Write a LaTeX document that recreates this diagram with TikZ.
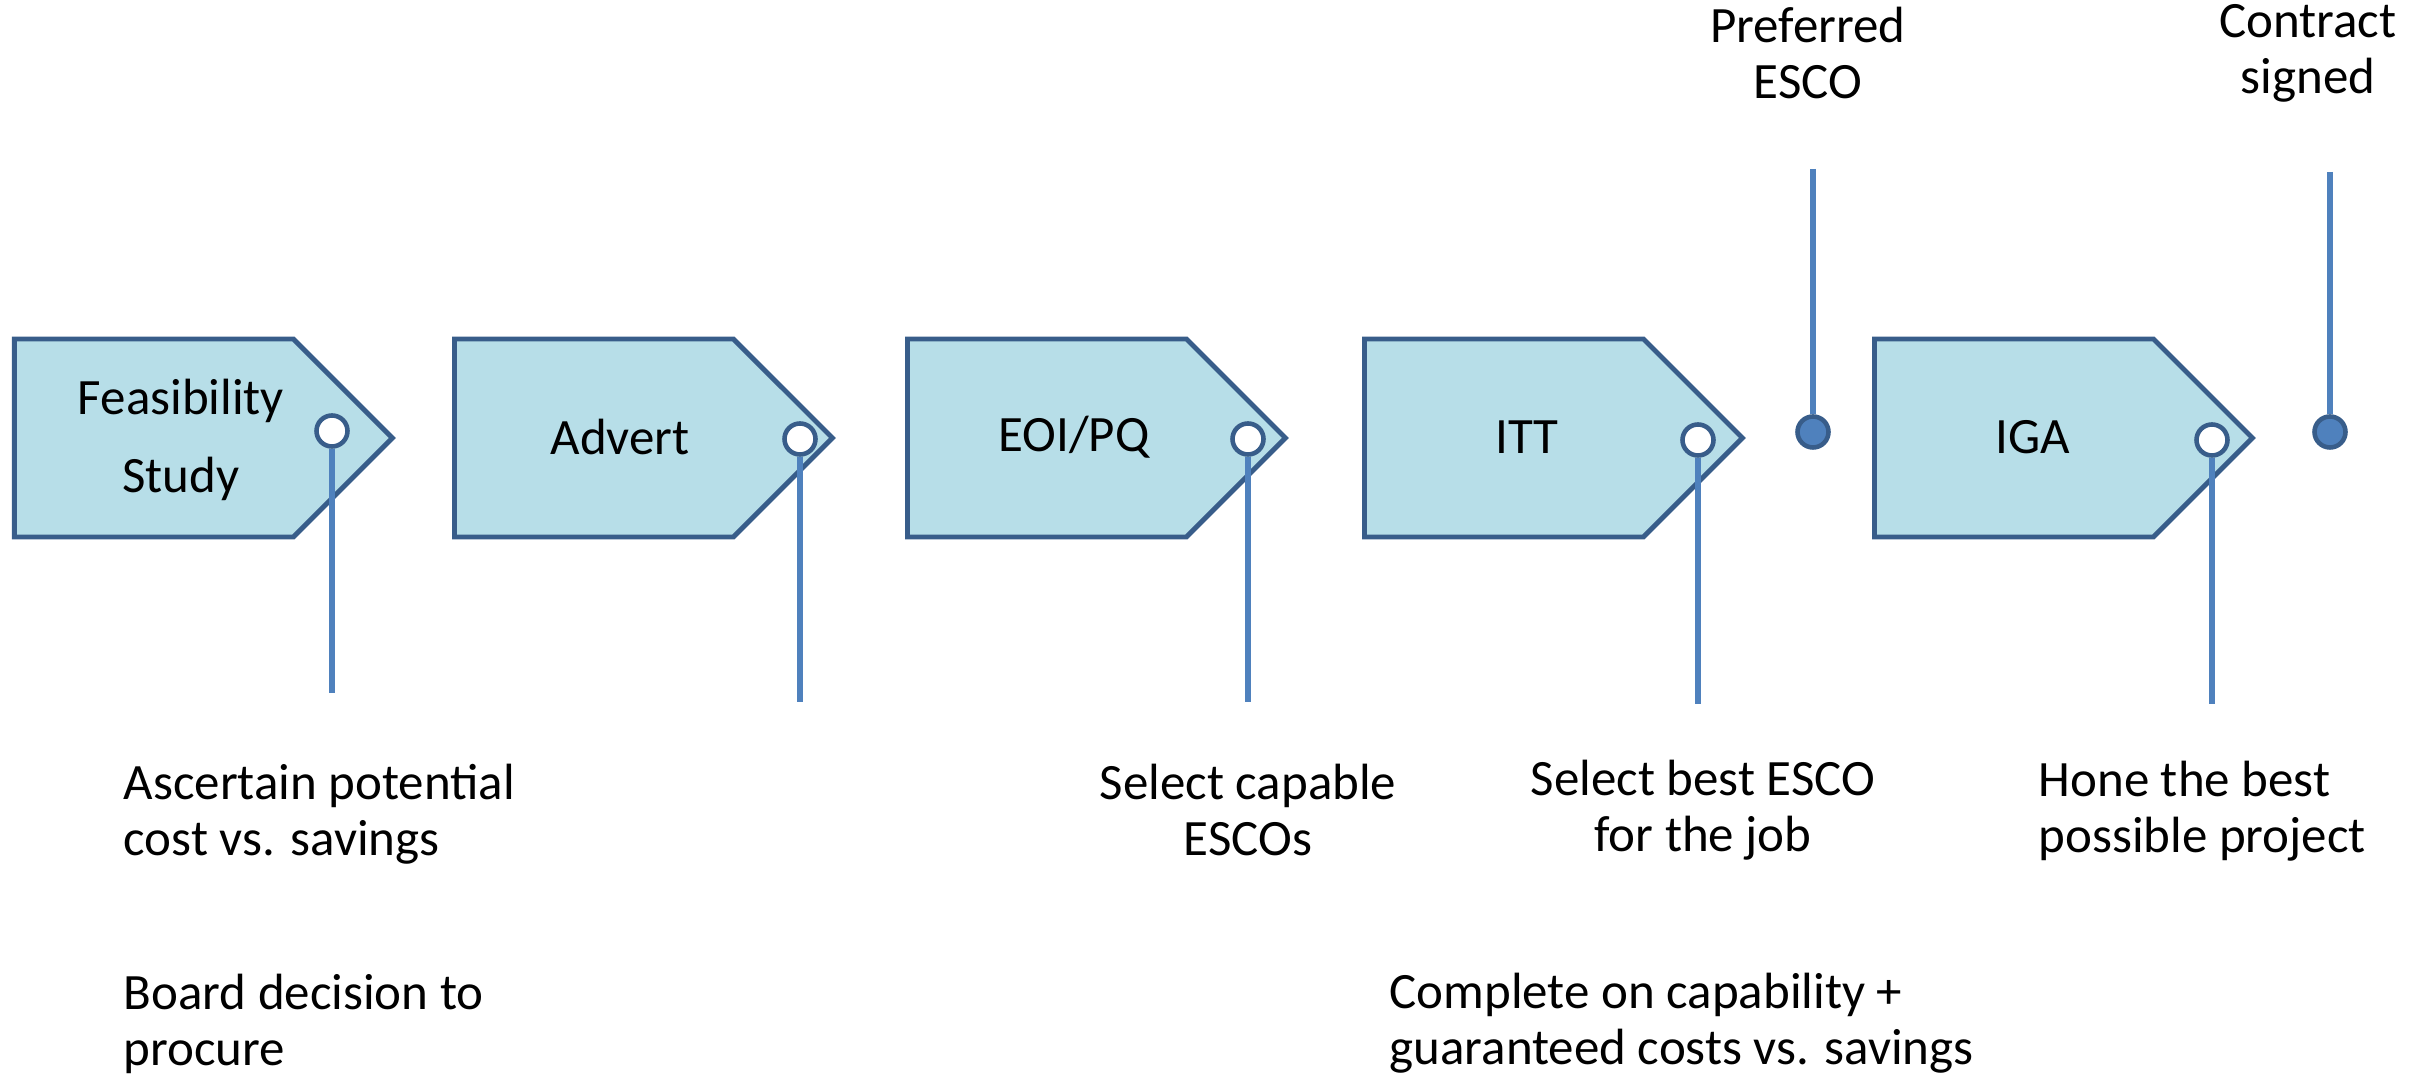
\documentclass[tikz,border=0pt]{standalone}
\usepackage{fontspec}
\setmainfont{Carlito}
\usepackage{tikz}
\usetikzlibrary{
  shapes.symbols,
  positioning
}
\usepackage{xcolor}
\definecolor{tgFill}{HTML}{B7DEE8}
\definecolor{tgEdge}{HTML}{385D8A}
\definecolor{tgStem}{HTML}{4F81BD}
\tikzset{
  % Stage tag (pointed label)
  stagetag/.style={
    signal,
    signal to=east,
    signal pointer angle=90,
    draw=tgEdge,
    fill=tgFill,
    line width=1.4pt,
    minimum width=3.78cm,
    minimum height=1.98cm,
    inner sep=0pt,
    anchor=west
  },
  % Text inside a tag
  taglabel/.style={
    font=\fontsize{14.5}{22}\selectfont,
    align=center,
    text=black
  },
  % Open ring on a tag
  ringnode/.style={
    circle,
    draw=tgEdge,
    fill=white,
    line width=1.3pt,
    minimum size=0.31cm,
    inner sep=0pt
  },
  % Filled milestone dot
  dotnode/.style={
    circle,
    draw=tgEdge,
    fill=tgStem,
    line width=1.3pt,
    minimum size=0.31cm,
    inner sep=0pt
  },
  % Stem line
  stemline/.style={
    line width=1.7pt,
    tgStem
  },
  % Notes under / above the stems
  notetext/.style={
    font=\fontsize{14.5}{16}\selectfont,
    text=black,
    inner sep=0pt
  }
}

\begin{document}
\begin{tikzpicture}

\useasboundingbox (0,0) rectangle (24.12,10.77);

%% === Stage tags ===
\node[stagetag] (feas) at (0.12, 6.39) {};
\node[stagetag] (advert) at (4.52, 6.39) {};
\node[stagetag] (eoi) at (9.05, 6.39) {};
\node[stagetag] (itt) at (13.62, 6.39) {};
\node[stagetag] (iga) at (18.72, 6.39) {};

% Tag texts
\node[taglabel] (feaslbl) at (1.81, 6.37) {Feasibility\\Study};
\node[taglabel] (advertlbl) at (6.20, 6.40) {Advert};
\node[taglabel] (eoilbl) at (10.74, 6.40) {EOI/PQ};
\node[taglabel] (ittlbl) at (15.27, 6.40) {ITT};
\node[taglabel] (igalbl) at (20.33, 6.40) {IGA};

%% === Stems hanging from the tags ===
\coordinate (feasend) at (3.32, 3.84);
\coordinate (advertend) at (8.00, 3.75);
\coordinate (eoiend) at (12.48, 3.75);
\coordinate (ittend) at (16.98, 3.73);
\coordinate (igaend) at (22.12, 3.73);

\node[ringnode] (feasring) at (3.32, 6.46) {};
\node[ringnode] (advertring) at (8.00, 6.38) {};
\node[ringnode] (eoiring) at (12.48, 6.38) {};
\node[ringnode] (ittring) at (16.98, 6.37) {};
\node[ringnode] (igaring) at (22.12, 6.37) {};

\draw[stemline] (feasring.south) -- (feasend);
\draw[stemline] (advertring.south) -- (advertend);
\draw[stemline] (eoiring.south) -- (eoiend);
\draw[stemline] (ittring.south) -- (ittend);
\draw[stemline] (igaring.south) -- (igaend);

%% === Milestones from above ===
\coordinate (preftop) at (18.13, 9.08);
\coordinate (contracttop) at (23.30, 9.05);
\node[dotnode] (prefdot) at (18.13, 6.45) {};
\node[dotnode] (contractdot) at (23.30, 6.45) {};
\draw[stemline] (preftop) -- (prefdot.north);
\draw[stemline] (contracttop) -- (contractdot.north);

\node[notetext, align=center] (preflbl) at (18.08, 10.24) {Preferred\\ESCO};
\node[notetext, align=center] (contractlbl) at (23.08, 10.24) {Contract\\signed};

%% === Notes below ===
\node[notetext, align=left, anchor=west] (ascertain) at (1.23, 2.63) {Ascertain potential\\cost vs. savings};
\node[notetext, align=left, anchor=west] (board) at (1.23, 0.53) {Board decision to\\procure};
\node[notetext, align=center] (selectcap) at (12.48, 2.67) {Select capable\\ESCOs};
\node[notetext, align=center] (selectbest) at (17.03, 2.67) {Select best ESCO\\for the job};
\node[notetext, align=left, anchor=west] (hone) at (20.38, 2.66) {Hone the best\\possible project};
\node[notetext, align=left, anchor=west] (complete) at (13.89, 0.54) {Complete on capability +\\guaranteed costs vs. savings};

\end{tikzpicture}
\end{document}
